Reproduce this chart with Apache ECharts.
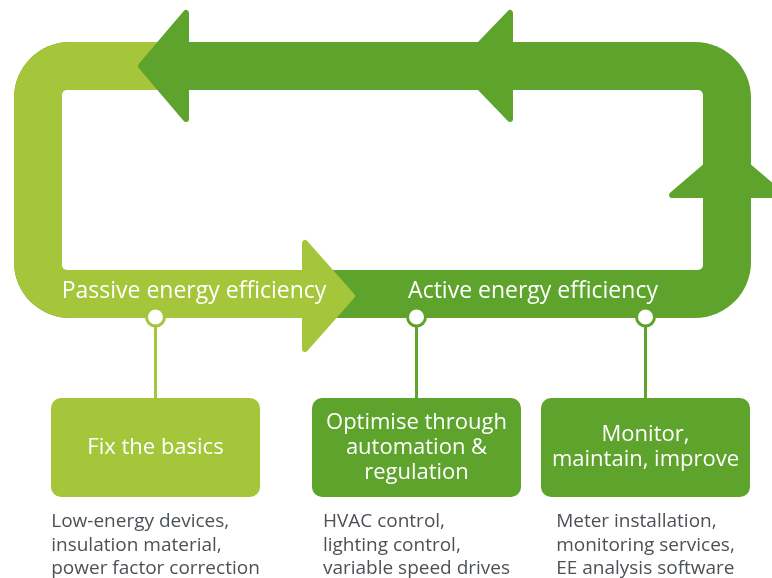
<!DOCTYPE html>
<html>
<head>
<meta charset="utf-8">
<script src="https://cdn.jsdelivr.net/npm/echarts@6/dist/echarts.min.js"></script>
<style>
  html, body { margin: 0; padding: 0; background: #fff; }
  #chart { width: 772px; height: 578px; }
</style>
</head>
<body>
<div id="chart"></div>
<script>
// text content of the diagram
const bandLabels = ['Passive energy efficiency', 'Active energy efficiency']
const stageTitles = ['Fix the basics', 'Optimise through\nautomation &\nregulation', 'Monitor,\nmaintain, improve']
const stageDetails = [
    ['Low-energy devices,', 'insulation material,', 'power factor correction'],
    ['HVAC control,', 'lighting control,', 'variable speed drives'],
    ['Meter installation,', 'monitoring services,', 'EE analysis software'],
]
const stageBand = [0, 1, 1]

const colors = ['#a5c53a', '#5ea32c']
const textGray = '#4c5156'
const labelFont = '23px "Open Sans"'
const titleFont = '22px "Open Sans"'
const detailFont = '19px "Open Sans"'

const chart = echarts.init(document.getElementById('chart'))

// layout of the loop
const loop = { left: 14, top: 42, right: 751, bottom: 318, band: 48 }
const topMid = loop.top + loop.band / 2
const botMid = loop.bottom - loop.band / 2 + 2
const boxLeft = [51, 312, 541]
const boxW = 209, boxTop = 398, boxH = 99

const measure = (() => {
    const ctx = document.createElement('canvas').getContext('2d')
    return (txt, font) => { ctx.font = font; return ctx.measureText(txt).width }
})()

// arrowhead polygon: tip point, direction, length, half width
const arrowHead = (tx, ty, dir, len, half, color) => {
    let pts
    if (dir === 'left') pts = [[tx, ty], [tx + len, ty - half], [tx + len, ty + half]]
    else if (dir === 'right') pts = [[tx, ty], [tx - len, ty - half], [tx - len, ty + half]]
    else pts = [[tx, ty], [tx + half, ty + len], [tx - half, ty + len]]
    return {
        type: 'polygon',
        shape: { points: pts },
        style: { fill: color, stroke: color, lineWidth: 6, lineJoin: 'round' },
    }
}

const elements = []

// dark full loop
elements.push({
    type: 'rect',
    shape: { x: loop.left, y: loop.top, width: loop.right - loop.left, height: loop.bottom - loop.top, r: 56 },
    style: { fill: colors[1] },
})
// light left part
elements.push({
    type: 'rect',
    shape: { x: loop.left, y: loop.top, width: 320 - loop.left, height: loop.bottom - loop.top, r: [56, 0, 0, 56] },
    style: { fill: colors[0] },
})
// top band turns dark under the first arrow
elements.push({
    type: 'rect',
    shape: { x: 165, y: loop.top, width: 200, height: loop.band },
    style: { fill: colors[1] },
})
// inner hole
elements.push({
    type: 'rect',
    shape: { x: loop.left + loop.band, y: loop.top + loop.band, width: loop.right - loop.left - 2 * loop.band, height: loop.bottom - loop.top - 2 * loop.band, r: 5 },
    style: { fill: '#fff' },
})

// arrowheads
elements.push(arrowHead(141, topMid, 'left', 45, 53, colors[1]))
elements.push(arrowHead(459, topMid, 'left', 51, 53, colors[1]))
elements.push(arrowHead(727, 148, 'up', 47, 55, colors[1]))
elements.push(arrowHead(352, botMid, 'right', 47, 53, colors[0]))

// band labels
const labelX = [194, 533]
bandLabels.forEach((t, i) => {
    elements.push({
        type: 'text',
        style: { text: t, x: labelX[i], y: 291, fill: '#fff', font: labelFont, textAlign: 'center', textVerticalAlign: 'middle' },
    })
})

// stages: connector, box, title, details
stageTitles.forEach((title, i) => {
    const c = colors[stageBand[i]]
    const cx = boxLeft[i] + boxW / 2
    elements.push({
        type: 'line',
        shape: { x1: cx, y1: loop.bottom, x2: cx, y2: boxTop + 2 },
        style: { stroke: c, lineWidth: 3 },
    })
    elements.push({
        type: 'circle',
        shape: { cx: cx, cy: loop.bottom - 1, r: 9 },
        style: { fill: '#fff', stroke: c, lineWidth: 3 },
    })
    elements.push({
        type: 'rect',
        shape: { x: boxLeft[i], y: boxTop, width: boxW, height: boxH, r: 10 },
        style: { fill: c },
    })
    elements.push({
        type: 'text',
        style: { text: title, x: cx, y: boxTop + boxH / 2, fill: '#fff', font: titleFont, lineHeight: 25, textAlign: 'center', textVerticalAlign: 'middle' },
    })
    const lines = stageDetails[i]
    const w = Math.max(...lines.map(l => measure(l, detailFont)))
    elements.push({
        type: 'text',
        style: { text: lines.join('\n'), x: cx - w / 2, y: 510, fill: textGray, font: detailFont, lineHeight: 23.5, textAlign: 'left', textVerticalAlign: 'top' },
    })
})

chart.setOption({
    animation: false,
    graphic: { elements: elements },
})
</script>
</body>
</html>
